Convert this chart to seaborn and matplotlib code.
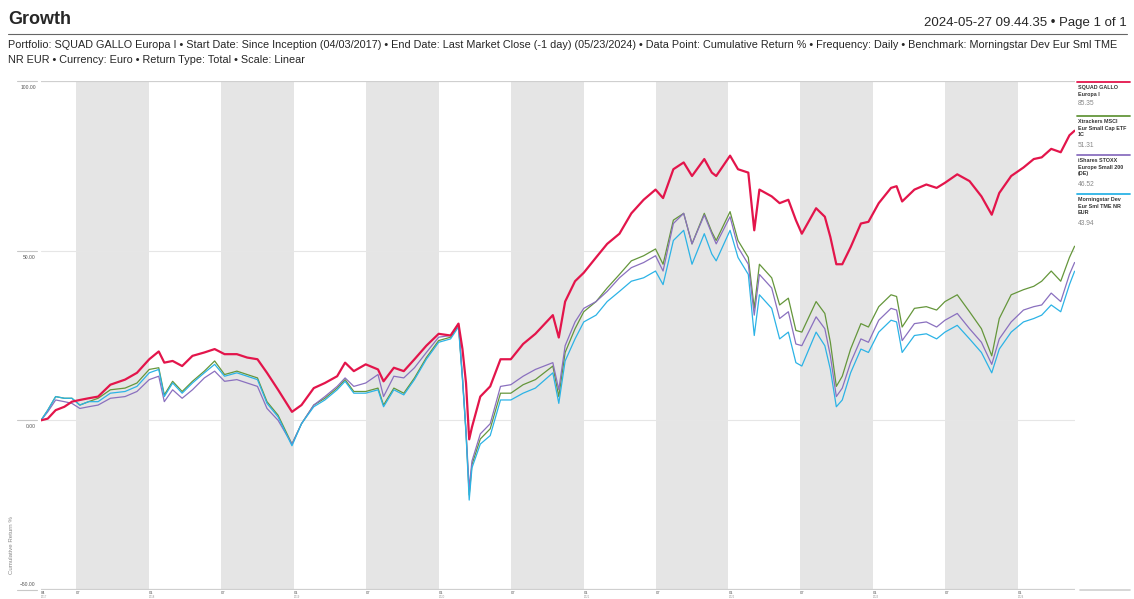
import pandas as pd
import matplotlib
matplotlib.use("Agg")
import matplotlib.pyplot as plt
from matplotlib.lines import Line2D
import seaborn as sns

# date grid
dates = ["2017-04-03", "2017-04-20", "2017-05-10", "2017-06-01", "2017-06-20", "2017-07-10",
         "2017-08-01", "2017-08-25", "2017-09-25", "2017-11-01", "2017-12-01", "2018-01-01",
         "2018-01-25", "2018-02-08", "2018-03-01", "2018-03-25", "2018-04-20", "2018-05-20",
         "2018-06-15", "2018-07-10", "2018-08-10", "2018-09-05", "2018-10-01", "2018-10-25",
         "2018-11-22", "2018-12-27", "2019-01-20", "2019-02-20", "2019-03-20", "2019-04-20",
         "2019-05-10", "2019-06-01", "2019-07-01", "2019-08-01", "2019-08-15", "2019-09-10",
         "2019-10-05", "2019-11-01", "2019-12-01", "2020-01-01", "2020-01-31", "2020-02-20",
         "2020-03-01", "2020-03-10", "2020-03-18", "2020-03-25", "2020-04-15", "2020-05-10",
         "2020-06-05", "2020-07-01", "2020-08-01", "2020-09-01", "2020-10-15", "2020-10-30",
         "2020-11-15", "2020-12-10", "2021-01-01", "2021-02-01", "2021-03-01", "2021-04-01",
         "2021-05-01", "2021-06-01", "2021-07-01", "2021-07-20", "2021-08-15", "2021-09-10",
         "2021-10-01", "2021-11-01", "2021-11-20", "2021-12-01", "2022-01-05", "2022-01-25",
         "2022-02-20", "2022-03-07", "2022-03-20", "2022-04-20", "2022-05-10", "2022-06-01",
         "2022-06-20", "2022-07-05", "2022-08-10", "2022-09-01", "2022-09-15", "2022-09-30",
         "2022-10-15", "2022-11-05", "2022-12-01", "2022-12-20", "2023-01-15", "2023-02-15",
         "2023-03-01", "2023-03-15", "2023-04-15", "2023-05-15", "2023-06-10", "2023-07-01",
         "2023-08-01", "2023-09-01", "2023-10-01", "2023-10-27", "2023-11-15", "2023-12-15",
         "2024-01-15", "2024-02-10", "2024-03-01", "2024-03-25", "2024-04-18", "2024-05-10",
         "2024-05-23"]

squad = [0, 0.5, 3, 4, 5.5, 6, 6.5, 7, 10.5, 12, 14, 18,
         20.3, 17, 17.5, 16, 19, 20, 21, 19.5, 19.5, 18.5, 18, 14,
         9, 2.5, 4.5, 9.5, 11, 13, 17, 14.5, 16.5, 15, 11.5, 15.5,
         14.5, 18, 22, 25.5, 25, 28.5, 21, 11, -5.6, -2, 7, 10,
         18, 18, 22.5, 25.5, 31, 24.4, 35, 41, 43.5, 48, 52, 55,
         61, 65, 68, 65.5, 74, 76, 72, 77, 73, 72, 78, 74,
         73, 56, 68, 66, 64, 65, 59, 55, 62.5, 60, 54, 46,
         46, 51, 58, 58.5, 64, 68.5, 69, 64.5, 68, 69.5, 68.5, 70,
         72.5, 70.5, 66, 60.6, 67, 72, 74.5, 77, 77.5, 80, 79, 84,
         85.35]

xtrackers = [0, 3, 7, 6.5, 6.5, 4.5, 5.5, 6.5, 9, 9.5, 11, 15,
             15.5, 7.5, 11.5, 8.5, 11.5, 14.5, 17.5, 13.5, 14.5, 13.5, 12.5, 5.5,
             1.5, -7, -1, 4.5, 6.5, 9.5, 12, 8.5, 8.5, 9.5, 4.5, 9.5,
             8, 12.5, 18.5, 23.5, 24.5, 28, 12.5, -3.5, -22, -13, -5.5, -2.5,
             8, 8, 10.5, 12, 16, 7, 20, 27, 32, 35, 39, 43,
             47, 48.5, 50.5, 46, 59, 61, 52, 61, 55.5, 53, 61.5, 53,
             48, 33, 46, 42, 34, 36, 26.5, 26, 35, 31.5, 23, 10,
             13, 21, 28.5, 27.5, 33.5, 37, 36.5, 27.5, 33, 33.5, 32.5, 35,
             37, 32, 27, 19, 30, 37, 38.5, 39.5, 41, 44, 41, 48,
             51.31]

ishares = [0, 2.5, 6, 5.5, 5, 3.5, 4, 4.5, 6.5, 7, 8.5, 12,
           13, 5.5, 9, 6.5, 9, 12.5, 14.5, 11.5, 12, 11, 10, 3.5,
           0, -7, -1, 4.5, 7, 10, 12.5, 10, 11, 13.5, 7, 13,
           12.5, 15.5, 20, 24.5, 25, 28.5, 13, -3, -20, -12, -4, -1,
           10, 10.5, 13, 15, 17, 9, 22, 29, 33, 35, 38, 42,
           45, 46.5, 48.5, 44, 58, 61, 52, 60.5, 55, 52, 60, 51,
           46, 31, 43, 39, 30, 32, 22.5, 22, 30.5, 27, 19, 7,
           9.5, 17, 24, 23, 29.5, 33, 32.5, 23.5, 28.5, 29, 27.5, 29.5,
           31.5, 27, 23, 16.5, 24, 29, 32.5, 33.5, 34, 37.5, 35, 43,
           46.52]

morningstar = [0, 3, 7, 6.5, 6.5, 4.5, 5.5, 5.5, 8, 8.5, 10, 14,
               15, 7, 11, 8, 11, 14, 16.5, 13, 14, 13, 12, 5,
               1, -7.5, -1, 4, 6, 9, 11.5, 8, 8, 9, 4, 9,
               7.5, 12, 18, 23, 24, 27.5, 12, -4, -23.5, -14, -7, -4.5,
               6, 6, 8, 9.5, 14, 5, 17.5, 24, 29, 31, 35, 38,
               41, 42, 44, 40, 53, 56, 46, 55, 49, 47, 56, 48,
               43, 25, 37, 33, 24, 26, 17, 16, 26, 22, 15, 4,
               6, 14, 21, 20, 26, 29.5, 29, 20, 25, 25.5, 24, 26,
               28, 24, 20, 14, 21, 26, 29, 30, 31, 34, 32, 40,
               43.94]

names = ["Xtrackers MSCI\nEur Small Cap ETF\n1C",
         "iShares STOXX\nEurope Small 200\n(DE)",
         "Morningstar Dev\nEur Sml TME NR\nEUR",
         "SQUAD GALLO\nEuropa I"]
colors = ["#65963b", "#8a70bf", "#2cb3e6", "#e3154b"]
widths = [0.9, 0.9, 0.9, 1.6]
series = [xtrackers, ishares, morningstar, squad]

sns.set_style("white")
plt.rcParams["font.family"] = ["Liberation Sans", "DejaVu Sans"]

df = pd.DataFrame({"date": pd.to_datetime(dates)})
for n, s in zip(names, series):
    df[n] = s

W, H = 1134, 599
TOP, BOT = 81, 590
fig = plt.figure(figsize=(W / 100, H / 100), dpi=100)
ax = fig.add_axes([41 / W, 1 - BOT / H, (1075 - 41) / W, (BOT - TOP) / H])

# half-year shading, July to January
for yr in range(2017, 2024):
    ax.axvspan(pd.Timestamp(f"{yr}-07-01"), pd.Timestamp(f"{yr + 1}-01-01"),
               color="#e5e5e5", lw=0, zorder=0)

for n, c, lw in zip(names, colors, widths):
    sns.lineplot(data=df, x="date", y=n, color=c, linewidth=lw, ax=ax, legend=False)

ax.set_xlim(pd.Timestamp("2017-04-03"), pd.Timestamp("2024-05-24"))
ax.set_ylim(-50, 100)
for sp in ax.spines.values():
    sp.set_visible(False)
ax.set_xticks([])
ax.set_yticks([])
ax.set_xlabel("")
ax.set_ylabel("")

# gridlines and y labels
ytr = ax.get_yaxis_transform()
for v in [100, 50, 0, -50]:
    edge = v in (100, -50)
    ax.axhline(v, color="#cfcfcf" if edge else "#e6e6e6", lw=1.6 if edge else 0.8, zorder=1)
    ax.plot([-0.023, -0.004], [v, v], transform=ytr, clip_on=False, color="#c8c8c8", lw=0.8)
    lab = f"{v:.2f}".replace("-", "\u2212")
    if v == -50:
        ax.text(-0.005, v + 1.0, lab, transform=ytr, ha="right", va="bottom",
                fontsize=3.6, color="#555555")
    else:
        ax.text(-0.005, v - 1.2, lab, transform=ytr, ha="right", va="top",
                fontsize=3.6, color="#555555")

fig.text(12 / W, 1 - 545 / H, "Cumulative Return %", rotation=90, fontsize=4.4,
         color="#888888", va="center", ha="center")

# x labels: month under the axis, year (on 04/01 ticks) at the very bottom
xtr = ax.get_xaxis_transform()
ticks = [pd.Timestamp("2017-04-03")]
for yr in range(2017, 2025):
    for m in (1, 7):
        t = pd.Timestamp(f"{yr}-{m:02d}-01")
        if pd.Timestamp("2017-04-03") < t < pd.Timestamp("2024-05-23"):
            ticks.append(t)
ph = BOT - TOP
for t in ticks:
    ax.text(t, -0.6 / ph, t.strftime("%m"), transform=xtr, ha="left", va="top",
            fontsize=3.0, color="#555555")
    if t.month != 7:
        ax.text(t, -(598.7 - BOT) / ph, str(t.year), transform=xtr, ha="left", va="bottom",
                fontsize=2.0, color="#999999")

# legend on the right
leg_y = [116, 155, 194, 82]
vals = [s[-1] for s in series]
for n, c, y, v in zip(names, colors, leg_y, vals):
    fig.add_artist(Line2D([1077 / W, 1130 / W], [1 - y / H, 1 - y / H], color=c, lw=1.3))
    fig.text(1078 / W, 1 - (y + 3) / H, n, fontsize=3.9, weight="bold", color="#333333",
             va="top", ha="left", linespacing=1.4)
    nl = n.count("\n") + 1
    fig.text(1078 / W, 1 - (y + 3 + nl * 7.7) / H, f"{v:.2f}", fontsize=4.8, color="#888888",
             va="top", ha="left")
fig.add_artist(Line2D([1080 / W, 1130 / W], [1 - BOT / H, 1 - BOT / H], color="#cfcfcf", lw=1.2))

# header
fig.text(8 / W, 1 - 20 / H, "Growth", fontsize=13, weight="bold", va="center", ha="left")
fig.text(1127 / W, 1 - 23 / H, "2024-05-27 09.44.35 \u2022 Page 1 of 1", fontsize=9.5,
         va="center", ha="right")
fig.add_artist(Line2D([8 / W, 1127 / W], [1 - 34 / H, 1 - 34 / H], color="#666666", lw=0.8))
sub1 = fig.text(8 / W, 1 - 45 / H,
                "Portfolio: SQUAD GALLO Europa I \u2022 Start Date: Since Inception (04/03/2017) \u2022 "
                "End Date: Last Market Close (-1 day) (05/23/2024) \u2022 Data Point: Cumulative Return % \u2022 "
                "Frequency: Daily \u2022 Benchmark: Morningstar Dev Eur Sml TME",
                fontsize=8.3, va="center", ha="left")
sub2 = fig.text(8 / W, 1 - 60 / H, "NR EUR \u2022 Currency: Euro \u2022 Return Type: Total \u2022 Scale: Linear",
                fontsize=8.3, va="center", ha="left")

# fit the first subtitle line to the width it has in the reference (x 8..1113)
r = fig.canvas.get_renderer()
w = sub1.get_window_extent(r).width
fs = 8.3 * 1105 / w
sub1.set_fontsize(fs)
sub2.set_fontsize(fs)

fig.savefig("out.png", dpi=100)
